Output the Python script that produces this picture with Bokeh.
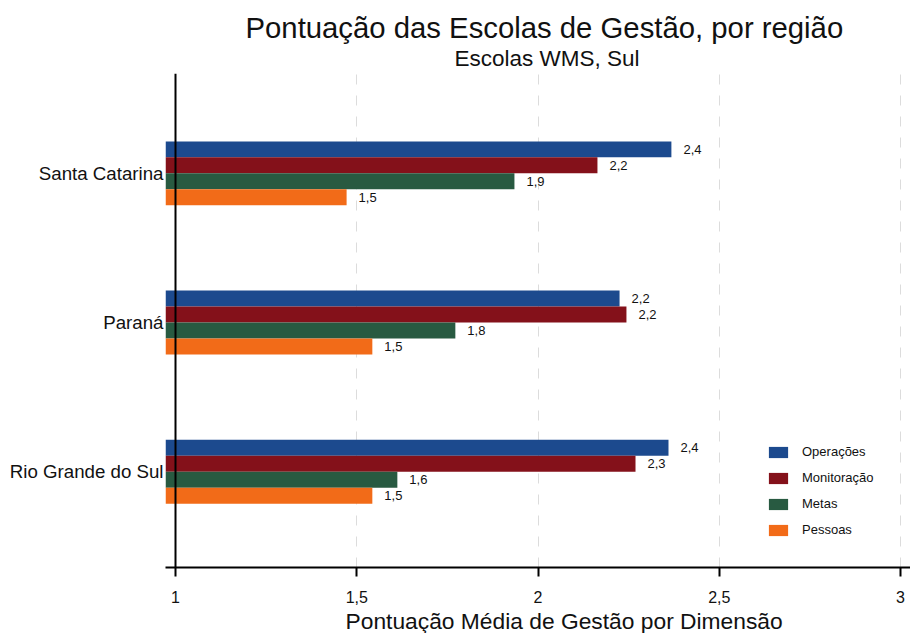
from bokeh.plotting import figure
from bokeh.models import (Range1d, ColumnDataSource, Span, Title,
                          FixedTicker, Legend, LegendItem)
from bokeh.embed import file_html
from bokeh.resources import INLINE

# ---- data ----
regions = ["Rio Grande do Sul", "Paraná", "Santa Catarina"]
series = ["Operações", "Monitoração", "Metas", "Pessoas"]
operacoes = [2.36, 2.225, 2.368]
monitoracao = [2.269, 2.244, 2.164]
metas = [1.612, 1.772, 1.935]
pessoas = [1.543, 1.543, 1.472]
x_ticks = [1, 1.5, 2, 2.5, 3]
x_tick_labels = ["1", "1,5", "2", "2,5", "3"]

colors = ["#1c4a8e", "#84111a", "#285a41", "#f26b18"]
values = [operacoes, monitoracao, metas, pessoas]

FONT = "Liberation Sans"

ypos = [i + 0.5 for i in range(len(regions))]

p = figure(width=910, height=633, output_backend="svg", toolbar_location=None,
           y_range=Range1d(-0.142, 3.169),
           x_range=Range1d(0.9724, 3.0276), title=None,
           min_border_left=165, min_border_right=0, min_border_top=73,
           min_border_bottom=65)
p.outline_line_color = None
p.background_fill_color = "white"
p.border_fill_color = "white"

h = 0.107
offsets = [1.5 * h, 0.5 * h, -0.5 * h, -1.5 * h]
items = []
for name, vals, col, off in zip(series, values, colors, offsets):
    src = ColumnDataSource(dict(
        y=[yy + off for yy in ypos], x=vals,
        lab=[f"{v:.1f}".replace(".", ",") for v in vals]))
    r = p.hbar(y="y", right="x", left=0.9724,
               height=h, source=src, fill_color=col, line_color=None)
    p.text(x="x", y="y", text="lab", source=src,
           x_offset=12, text_baseline="middle", text_align="left",
           text_font_size="13px", text_color="#111111", text_font={"value": FONT})
    items.append(LegendItem(label=name, renderers=[r]))

# vertical axis line at x=1
p.add_layout(Span(location=1, dimension="height", line_color="black", line_width=2))

# grid
p.ygrid.grid_line_color = None
p.xgrid.ticker = FixedTicker(ticks=x_ticks[1:])
p.xgrid.grid_line_color = "#dcdcdc"
p.xgrid.grid_line_width = 1
p.xgrid.grid_line_dash = "10 11"

# x axis
xa = p.xaxis[0]
xa.ticker = FixedTicker(ticks=x_ticks)
xa.major_label_overrides = {t: l for t, l in zip(x_ticks, x_tick_labels)}
xa.axis_line_width = 2
xa.axis_line_color = "black"
xa.major_tick_line_width = 2
xa.major_tick_in = 0
xa.major_tick_out = 9
xa.minor_tick_line_color = None
xa.major_label_text_font = FONT
xa.major_label_text_font_size = "16px"
xa.major_label_text_color = "#111111"
xa.major_label_standoff = 14

# x axis title (placed as a title below the axis)
p.add_layout(Title(text="Pontuação Média de Gestão por Dimensão", align="left",
                   offset=180, text_font=FONT, text_font_size="22.8px",
                   text_font_style="normal", text_color="#111111", standoff=0),
             "below")

# y axis
ya = p.yaxis[0]
ya.ticker = FixedTicker(ticks=ypos)
ya.major_label_overrides = {t: l for t, l in zip(ypos, regions)}
ya.axis_line_color = None
ya.major_tick_line_color = None
ya.major_tick_out = 0
ya.major_tick_in = 0
ya.minor_tick_line_color = None
ya.minor_tick_out = 0
ya.minor_tick_in = 0
ya.major_label_text_font = FONT
ya.major_label_text_font_size = "18.7px"
ya.major_label_text_color = "#111111"
ya.major_label_standoff = 2

# titles
p.add_layout(Title(text="Escolas WMS, Sul", align="left", offset=289,
                   text_font=FONT, text_font_size="22.5px", text_font_style="normal",
                   text_color="#111111", standoff=6), "above")
p.add_layout(Title(text="Pontuação das Escolas de Gestão, por região", align="left",
                   offset=80, text_font=FONT, text_font_size="29.3px",
                   text_font_style="normal", text_color="#111111", standoff=-6), "above")

legend = Legend(items=items, location=(601, 30), glyph_width=24, glyph_height=14,
                label_height=14, spacing=11, label_standoff=12, padding=0, margin=0,
                border_line_color=None, background_fill_alpha=0,
                label_text_font=FONT, label_text_font_size="13px",
                label_text_color="#111111")
p.add_layout(legend, "center")

open("out.html", "w").write(file_html(p, INLINE))
